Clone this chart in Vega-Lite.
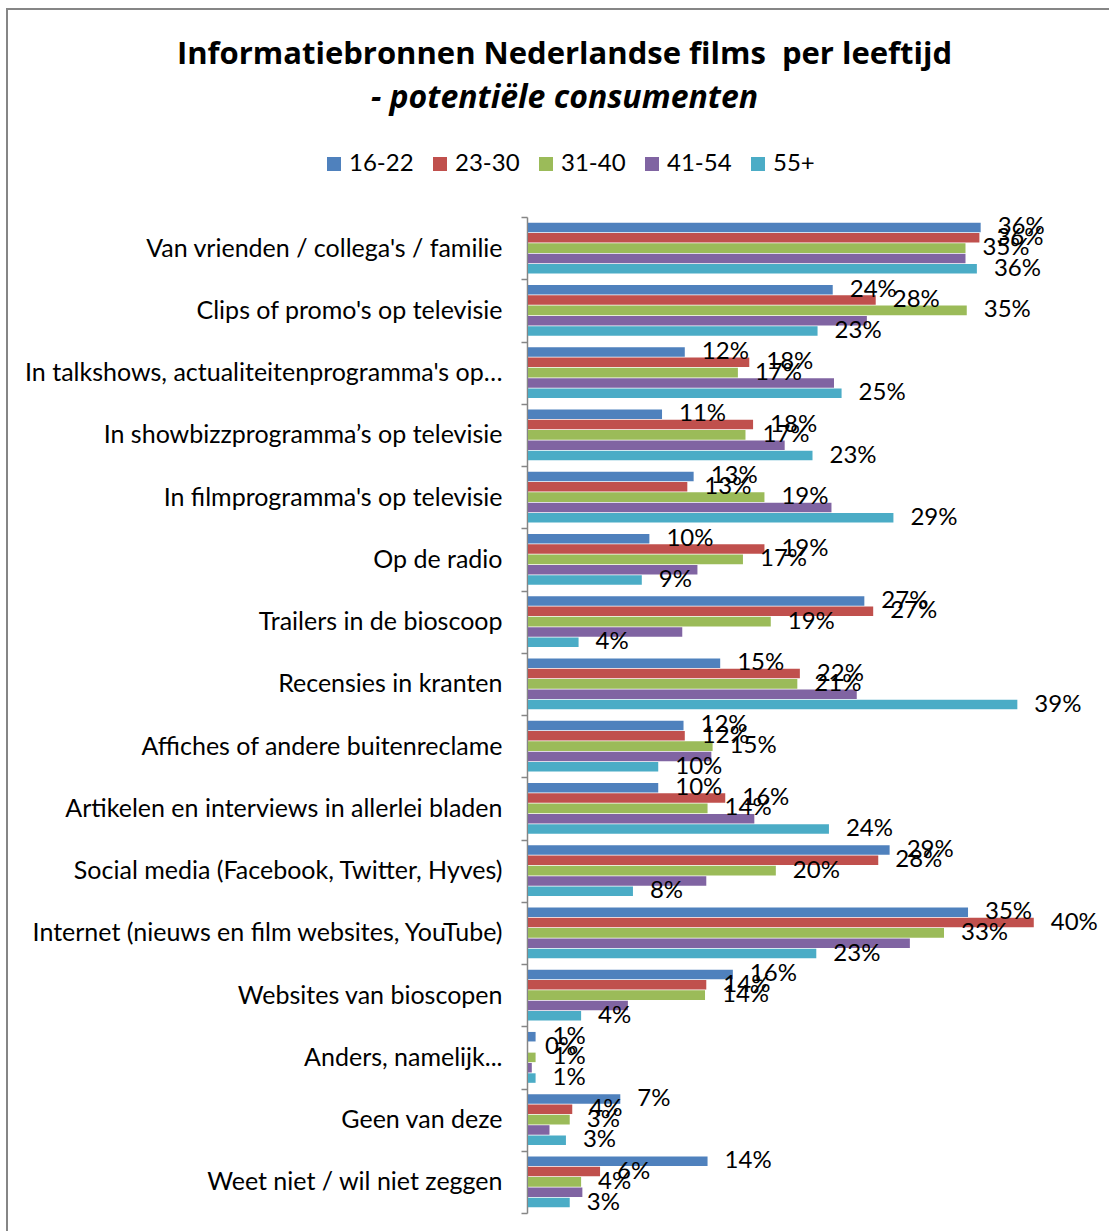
{
  "$schema": "https://vega.github.io/schema/vega-lite/v6.json",
  "width": 1107,
  "height": 1229,
  "padding": {"left": 7, "top": -3, "right": 0, "bottom": 0},
  "autosize": {"type": "pad"},
  "background": "white",
  "config": {
    "view": {"stroke": "#868686", "strokeWidth": 2},
    "font": "Lato"
  },
  "title": {
    "text": "Informatiebronnen Nederlandse films\u00a0 per leeftijd",
    "subtitle": "- potentiële consumenten",
    "font": "Open Sans",
    "subtitleFont": "Open Sans",
    "fontSize": 31,
    "fontWeight": "bold",
    "color": "black",
    "subtitleFontSize": 32,
    "subtitleFontWeight": "bold",
    "subtitleFontStyle": "italic",
    "subtitleColor": "black",
    "subtitlePadding": 12,
    "anchor": "middle",
    "dx": 4,
    "offset": -118
  },
  "data": {
    "values": [
      {"bron": "Van vrienden / collega's / familie", "leeftijd": "16-22", "aandeel": 0.358},
      {"bron": "Van vrienden / collega's / familie", "leeftijd": "23-30", "aandeel": 0.357},
      {"bron": "Van vrienden / collega's / familie", "leeftijd": "31-40", "aandeel": 0.346},
      {"bron": "Van vrienden / collega's / familie", "leeftijd": "41-54", "aandeel": 0.346},
      {"bron": "Van vrienden / collega's / familie", "leeftijd": "55+", "aandeel": 0.355},
      {"bron": "Clips of promo's op televisie", "leeftijd": "16-22", "aandeel": 0.241},
      {"bron": "Clips of promo's op televisie", "leeftijd": "23-30", "aandeel": 0.275},
      {"bron": "Clips of promo's op televisie", "leeftijd": "31-40", "aandeel": 0.347},
      {"bron": "Clips of promo's op televisie", "leeftijd": "41-54", "aandeel": 0.268},
      {"bron": "Clips of promo's op televisie", "leeftijd": "55+", "aandeel": 0.229},
      {"bron": "In talkshows, actualiteitenprogramma's op…", "leeftijd": "16-22", "aandeel": 0.124},
      {"bron": "In talkshows, actualiteitenprogramma's op…", "leeftijd": "23-30", "aandeel": 0.175},
      {"bron": "In talkshows, actualiteitenprogramma's op…", "leeftijd": "31-40", "aandeel": 0.166},
      {"bron": "In talkshows, actualiteitenprogramma's op…", "leeftijd": "41-54", "aandeel": 0.242},
      {"bron": "In talkshows, actualiteitenprogramma's op…", "leeftijd": "55+", "aandeel": 0.248},
      {"bron": "In showbizzprogramma’s op televisie", "leeftijd": "16-22", "aandeel": 0.106},
      {"bron": "In showbizzprogramma’s op televisie", "leeftijd": "23-30", "aandeel": 0.178},
      {"bron": "In showbizzprogramma’s op televisie", "leeftijd": "31-40", "aandeel": 0.172},
      {"bron": "In showbizzprogramma’s op televisie", "leeftijd": "41-54", "aandeel": 0.203},
      {"bron": "In showbizzprogramma’s op televisie", "leeftijd": "55+", "aandeel": 0.225},
      {"bron": "In filmprogramma's op televisie", "leeftijd": "16-22", "aandeel": 0.131},
      {"bron": "In filmprogramma's op televisie", "leeftijd": "23-30", "aandeel": 0.126},
      {"bron": "In filmprogramma's op televisie", "leeftijd": "31-40", "aandeel": 0.187},
      {"bron": "In filmprogramma's op televisie", "leeftijd": "41-54", "aandeel": 0.240},
      {"bron": "In filmprogramma's op televisie", "leeftijd": "55+", "aandeel": 0.289},
      {"bron": "Op de radio", "leeftijd": "16-22", "aandeel": 0.096},
      {"bron": "Op de radio", "leeftijd": "23-30", "aandeel": 0.187},
      {"bron": "Op de radio", "leeftijd": "31-40", "aandeel": 0.170},
      {"bron": "Op de radio", "leeftijd": "41-54", "aandeel": 0.134},
      {"bron": "Op de radio", "leeftijd": "55+", "aandeel": 0.090},
      {"bron": "Trailers in de bioscoop", "leeftijd": "16-22", "aandeel": 0.266},
      {"bron": "Trailers in de bioscoop", "leeftijd": "23-30", "aandeel": 0.273},
      {"bron": "Trailers in de bioscoop", "leeftijd": "31-40", "aandeel": 0.192},
      {"bron": "Trailers in de bioscoop", "leeftijd": "41-54", "aandeel": 0.122},
      {"bron": "Trailers in de bioscoop", "leeftijd": "55+", "aandeel": 0.040},
      {"bron": "Recensies in kranten", "leeftijd": "16-22", "aandeel": 0.152},
      {"bron": "Recensies in kranten", "leeftijd": "23-30", "aandeel": 0.215},
      {"bron": "Recensies in kranten", "leeftijd": "31-40", "aandeel": 0.213},
      {"bron": "Recensies in kranten", "leeftijd": "41-54", "aandeel": 0.260},
      {"bron": "Recensies in kranten", "leeftijd": "55+", "aandeel": 0.387},
      {"bron": "Affiches of andere buitenreclame", "leeftijd": "16-22", "aandeel": 0.123},
      {"bron": "Affiches of andere buitenreclame", "leeftijd": "23-30", "aandeel": 0.124},
      {"bron": "Affiches of andere buitenreclame", "leeftijd": "31-40", "aandeel": 0.146},
      {"bron": "Affiches of andere buitenreclame", "leeftijd": "41-54", "aandeel": 0.145},
      {"bron": "Affiches of andere buitenreclame", "leeftijd": "55+", "aandeel": 0.103},
      {"bron": "Artikelen en interviews in allerlei bladen", "leeftijd": "16-22", "aandeel": 0.103},
      {"bron": "Artikelen en interviews in allerlei bladen", "leeftijd": "23-30", "aandeel": 0.156},
      {"bron": "Artikelen en interviews in allerlei bladen", "leeftijd": "31-40", "aandeel": 0.142},
      {"bron": "Artikelen en interviews in allerlei bladen", "leeftijd": "41-54", "aandeel": 0.179},
      {"bron": "Artikelen en interviews in allerlei bladen", "leeftijd": "55+", "aandeel": 0.238},
      {"bron": "Social media (Facebook, Twitter, Hyves)", "leeftijd": "16-22", "aandeel": 0.286},
      {"bron": "Social media (Facebook, Twitter, Hyves)", "leeftijd": "23-30", "aandeel": 0.277},
      {"bron": "Social media (Facebook, Twitter, Hyves)", "leeftijd": "31-40", "aandeel": 0.196},
      {"bron": "Social media (Facebook, Twitter, Hyves)", "leeftijd": "41-54", "aandeel": 0.141},
      {"bron": "Social media (Facebook, Twitter, Hyves)", "leeftijd": "55+", "aandeel": 0.083},
      {"bron": "Internet (nieuws en film websites, YouTube)", "leeftijd": "16-22", "aandeel": 0.348},
      {"bron": "Internet (nieuws en film websites, YouTube)", "leeftijd": "23-30", "aandeel": 0.400},
      {"bron": "Internet (nieuws en film websites, YouTube)", "leeftijd": "31-40", "aandeel": 0.329},
      {"bron": "Internet (nieuws en film websites, YouTube)", "leeftijd": "41-54", "aandeel": 0.302},
      {"bron": "Internet (nieuws en film websites, YouTube)", "leeftijd": "55+", "aandeel": 0.228},
      {"bron": "Websites van bioscopen", "leeftijd": "16-22", "aandeel": 0.162},
      {"bron": "Websites van bioscopen", "leeftijd": "23-30", "aandeel": 0.141},
      {"bron": "Websites van bioscopen", "leeftijd": "31-40", "aandeel": 0.140},
      {"bron": "Websites van bioscopen", "leeftijd": "41-54", "aandeel": 0.079},
      {"bron": "Websites van bioscopen", "leeftijd": "55+", "aandeel": 0.042},
      {"bron": "Anders, namelijk...", "leeftijd": "16-22", "aandeel": 0.006},
      {"bron": "Anders, namelijk...", "leeftijd": "23-30", "aandeel": 0.0},
      {"bron": "Anders, namelijk...", "leeftijd": "31-40", "aandeel": 0.006},
      {"bron": "Anders, namelijk...", "leeftijd": "41-54", "aandeel": 0.003},
      {"bron": "Anders, namelijk...", "leeftijd": "55+", "aandeel": 0.006},
      {"bron": "Geen van deze", "leeftijd": "16-22", "aandeel": 0.073},
      {"bron": "Geen van deze", "leeftijd": "23-30", "aandeel": 0.035},
      {"bron": "Geen van deze", "leeftijd": "31-40", "aandeel": 0.033},
      {"bron": "Geen van deze", "leeftijd": "41-54", "aandeel": 0.017},
      {"bron": "Geen van deze", "leeftijd": "55+", "aandeel": 0.030},
      {"bron": "Weet niet / wil niet zeggen", "leeftijd": "16-22", "aandeel": 0.142},
      {"bron": "Weet niet / wil niet zeggen", "leeftijd": "23-30", "aandeel": 0.057},
      {"bron": "Weet niet / wil niet zeggen", "leeftijd": "31-40", "aandeel": 0.042},
      {"bron": "Weet niet / wil niet zeggen", "leeftijd": "41-54", "aandeel": 0.043},
      {"bron": "Weet niet / wil niet zeggen", "leeftijd": "55+", "aandeel": 0.033}
    ]
  },
  "encoding": {
    "y": {
      "field": "bron",
      "type": "nominal",
      "sort": null,
      "scale": {"range": [208, 1204], "paddingInner": 0, "paddingOuter": 0},
      "axis": {
        "title": null,
        "offset": -520,
        "tickBand": "extent",
        "tickSize": 6,
        "tickWidth": 1.5,
        "tickColor": "#868686",
        "domainColor": "#868686",
        "domainWidth": 1.5,
        "labelFont": "Lato",
        "labelFontSize": 25,
        "labelColor": "black",
        "labelPadding": 19,
        "labelLimit": 600
      }
    },
    "yOffset": {
      "field": "leeftijd",
      "type": "nominal",
      "sort": ["16-22", "23-30", "31-40", "41-54", "55+"],
      "scale": {"paddingOuter": 0.55, "paddingInner": 0.08}
    },
    "x": {
      "field": "aandeel",
      "type": "quantitative",
      "scale": {"domain": [0, 0.45], "range": [521, 1090], "nice": false, "zero": true},
      "axis": null
    }
  },
  "layer": [
    {
      "mark": {"type": "bar"},
      "encoding": {
        "color": {
          "field": "leeftijd",
          "type": "nominal",
          "sort": ["16-22", "23-30", "31-40", "41-54", "55+"],
          "scale": {
            "domain": ["16-22", "23-30", "31-40", "41-54", "55+"],
            "range": ["#4F81BD", "#C0504D", "#9BBB59", "#8064A2", "#4BACC6"]
          },
          "legend": {
            "title": null,
            "orient": "none",
            "legendX": 315,
            "legendY": 143,
            "direction": "horizontal",
            "symbolType": "square",
            "symbolSize": 196,
            "symbolStrokeWidth": 0,
            "labelFont": "Lato",
            "labelFontSize": 24,
            "labelColor": "black",
            "labelOffset": 3,
            "columnPadding": 14,
            "padding": 0
          }
        }
      }
    },
    {
      "transform": [{"filter": "datum.leeftijd != '41-54'"}],
      "mark": {"type": "text", "align": "left", "baseline": "middle", "dx": 17, "font": "Lato", "fontSize": 24, "color": "black"},
      "encoding": {
        "text": {"field": "aandeel", "type": "quantitative", "format": ".0%"}
      }
    }
  ]
}
